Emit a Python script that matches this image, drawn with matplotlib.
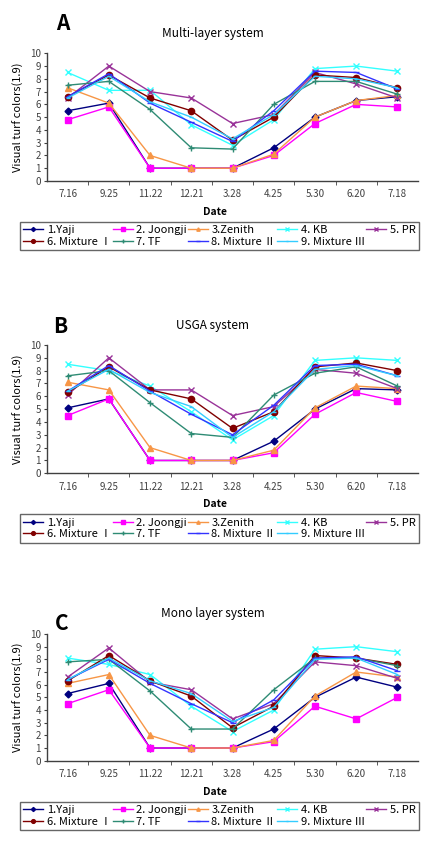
import matplotlib
matplotlib.use("Agg")
import matplotlib.pyplot as plt

plt.rcParams['font.family'] = ['Noto Sans CJK KR', 'DejaVu Sans']

# dates on the x axis
dates = ['7.16', '9.25', '11.22', '12.21', '3.28', '4.25', '5.30', '6.20', '7.18']

names = ['1.Yaji', '2. Joongji', '3.Zenith', '4. KB', '5. PR',
         '6. Mixture Ⅰ', '7. TF', '8. Mixture Ⅱ', '9. Mixture Ⅲ']

# A - multi-layer system
multi_layer = [
    [5.5, 6.1, 1.0, 1.0, 1.0, 2.6, 5.0, 6.3, 6.6],
    [4.8, 5.8, 1.0, 1.0, 1.0, 2.0, 4.5, 6.0, 5.8],
    [7.3, 6.1, 2.0, 1.0, 1.0, 2.1, 5.0, 6.3, 6.7],
    [8.5, 7.1, 7.1, 4.4, 2.8, 4.8, 8.8, 9.0, 8.6],
    [6.5, 9.0, 7.0, 6.5, 4.5, 5.2, 8.5, 7.6, 6.5],
    [6.6, 8.3, 6.5, 5.5, 3.2, 5.0, 8.3, 8.1, 7.3],
    [7.5, 7.8, 5.6, 2.6, 2.5, 6.0, 7.8, 7.8, 6.8],
    [6.6, 8.4, 6.1, 4.6, 3.1, 5.5, 8.6, 8.5, 7.2],
    [6.5, 8.2, 6.2, 5.0, 3.3, 5.2, 8.2, 8.0, 7.3],
]

# B - USGA system
usga = [
    [5.1, 5.8, 1.0, 1.0, 1.0, 2.5, 5.0, 6.6, 6.5],
    [4.5, 5.8, 1.0, 1.0, 1.0, 1.6, 4.6, 6.3, 5.6],
    [7.1, 6.5, 2.0, 1.0, 1.0, 1.8, 5.1, 6.8, 6.6],
    [8.5, 8.0, 6.8, 4.8, 2.6, 4.5, 8.8, 9.0, 8.8],
    [6.1, 9.0, 6.5, 6.5, 4.5, 5.2, 8.1, 7.8, 6.6],
    [6.3, 8.3, 6.5, 5.8, 3.5, 4.8, 8.3, 8.6, 8.0],
    [7.6, 8.0, 5.5, 3.1, 2.8, 6.1, 7.8, 8.3, 6.8],
    [6.4, 8.4, 6.4, 4.6, 3.0, 5.3, 8.4, 8.5, 7.6],
    [6.4, 8.1, 6.3, 5.2, 2.8, 4.8, 8.1, 8.4, 7.6],
]

# C - mono layer system
mono_layer = [
    [5.3, 6.1, 1.0, 1.0, 1.0, 2.5, 5.0, 6.6, 5.8],
    [4.5, 5.6, 1.0, 1.0, 1.0, 1.5, 4.3, 3.3, 5.0],
    [6.1, 6.8, 2.0, 1.0, 1.0, 1.6, 5.1, 7.0, 6.6],
    [8.1, 7.6, 6.8, 4.3, 2.3, 4.0, 8.8, 9.0, 8.6],
    [6.6, 8.9, 6.2, 5.6, 3.3, 4.5, 7.8, 7.5, 6.5],
    [6.3, 8.3, 6.3, 5.1, 2.6, 4.3, 8.3, 8.1, 7.6],
    [7.8, 8.0, 5.5, 2.5, 2.5, 5.6, 8.1, 8.1, 7.5],
    [6.4, 8.0, 6.1, 4.5, 3.0, 4.8, 8.1, 8.2, 7.1],
    [6.4, 8.1, 6.3, 5.3, 3.1, 4.2, 8.0, 8.1, 6.8],
]

colors = ['#000080', '#ff00ff', '#f79646', '#33ffff', '#993399',
          '#800000', '#2e8b74', '#3333ff', '#33ccff']
markers = ['D', 's', '^', 'x', 'x', 'o', '+', '_', '_']
msizes = [3.5, 5, 4, 5, 5, 4.5, 5, 4, 3]

panels = [
    ('A', 'Multi-layer system', multi_layer, 53.3, 181.0, 33, (63, 24)),
    ('B', 'USGA system', usga, 345.0, 473.3, 326, (60, 327)),
    ('C', 'Mono layer system', mono_layer, 634.0, 760.7, 614, (62, 623)),
]

W, H = 429, 858
fig = plt.figure(figsize=(W / 100, H / 100), dpi=100)

x = list(range(len(dates)))
ax_left, ax_right = 47, 418

for letter, title, data, ytop, ybot, ytitle, (lx, ly) in panels:
    ax = fig.add_axes([ax_left / W, 1 - ybot / H, (ax_right - ax_left) / W, (ybot - ytop) / H])
    handles = []
    for i, vals in enumerate(data):
        ln, = ax.plot(x, vals, color=colors[i], marker=markers[i], markersize=msizes[i],
                      linewidth=1.0, markeredgewidth=1.0, label=names[i])
        handles.append(ln)

    ax.set_xlim(-0.5, 8.5)
    ax.set_ylim(0, 10)
    ax.set_yticks(range(0, 11))
    ax.set_xticks(x)
    ax.set_xticklabels(dates)
    ax.set_xticks([i + 0.5 for i in range(8)], minor=True)
    ax.tick_params(axis='x', which='major', length=0, labelsize=7, pad=6, colors='#404040')
    ax.tick_params(axis='x', which='minor', length=3, direction='out', color='#404040')
    ax.tick_params(axis='y', length=2.5, labelsize=7, pad=2, colors='#404040')
    for s in ['top', 'right']:
        ax.spines[s].set_visible(False)
    for s in ['left', 'bottom']:
        ax.spines[s].set_color('#404040')
        ax.spines[s].set_linewidth(1.0)

    ax.set_ylabel('Visual turf colors(1.9)', fontsize=8, labelpad=4)
    fig.text(213 / W, 1 - ytitle / H, title, ha='center', va='center', fontsize=8.5)
    fig.text(lx / W, 1 - ly / H, letter, ha='center', va='center', fontsize=15, fontweight='bold')
    fig.text(215 / W, 1 - (ybot + 31) / H, 'Date', ha='center', va='center', fontsize=7.5,
             fontweight='bold')

    # legend reads row by row like the original
    order = [0, 5, 1, 6, 2, 7, 3, 8, 4]
    leg = fig.legend([handles[k] for k in order], [names[k] for k in order],
                     loc='upper left', ncol=5, mode='expand',
                     bbox_to_anchor=(20 / W, 1 - (ybot + 73) / H, 399 / W, 32 / H),
                     fontsize=8, frameon=True, fancybox=False, borderpad=0.3,
                     handlelength=1.8, handletextpad=0.3, labelspacing=0.15,
                     columnspacing=0.3, markerscale=0.6, borderaxespad=0)
    leg.get_frame().set_edgecolor('#404040')
    leg.get_frame().set_linewidth(1.0)

fig.savefig('out.png', dpi=100)
